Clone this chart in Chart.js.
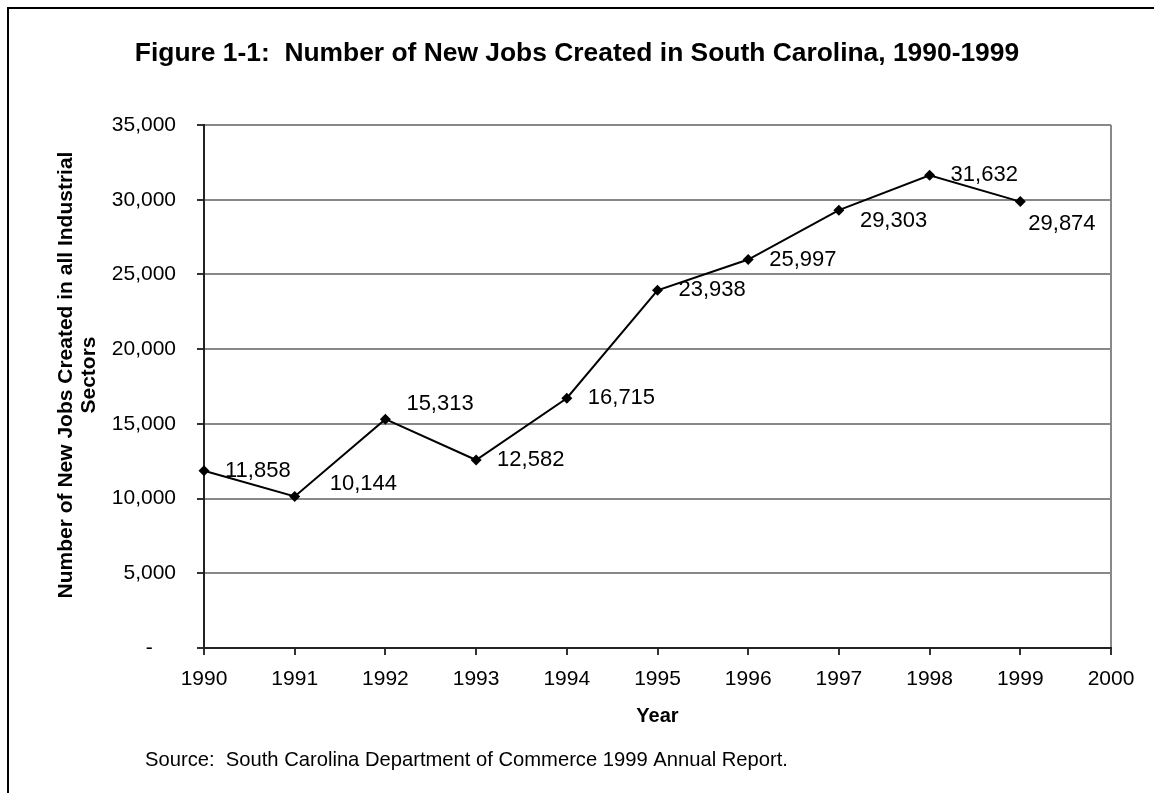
<!DOCTYPE html>
<html lang="en">
<head>
    <meta charset="UTF-8">
    <title>New Jobs Created in South Carolina</title>
    <script src="https://cdn.jsdelivr.net/npm/chart.js@4.4.0/dist/chart.umd.min.js"></script>
    <style>
        body {
            margin: 0;
            background: #fff;
            overflow: hidden;
        }
        canvas {
            display: block;
        }
    </style>
</head>
<body>
    <canvas id="jobsChart" width="1154" height="793"></canvas>

    <script>
        const years = [1990, 1991, 1992, 1993, 1994, 1995, 1996, 1997, 1998, 1999];
        const newJobs = [11858, 10144, 15313, 12582, 16715, 23938, 25997, 29303, 31632, 29874];

        // small hand nudges so the value labels don't sit on the line
        const labelShiftX = [0, 14, 0, 0, 0, 0, 0, 0, 0, -13];
        const labelShiftY = [0, -12, -15, 0, 0, 0, 0, 11, 0, 22];

        const FONT = '"Liberation Sans", Arial, sans-serif';
        const fmt = v => v.toLocaleString('en-US');

        const decorations = {
            id: 'decorations',
            beforeDraw(chart) {
                const ctx = chart.ctx;
                ctx.save();
                ctx.strokeStyle = '#000';
                ctx.lineWidth = 2;
                ctx.strokeRect(8, 8, 1200, 900);
                ctx.restore();
            },
            afterDraw(chart) {
                const ctx = chart.ctx;
                const area = chart.chartArea;
                ctx.save();
                ctx.fillStyle = '#000';

                // title
                ctx.font = 'bold 26.4px ' + FONT;
                ctx.textAlign = 'center';
                ctx.textBaseline = 'middle';
                ctx.fillText('Figure 1-1:  Number of New Jobs Created in South Carolina, 1990-1999', 577, 54);

                // axis titles
                ctx.font = 'bold 20px ' + FONT;
                ctx.fillText('Year', (area.left + area.right) / 2, 716);

                ctx.font = 'bold 21px ' + FONT;
                ctx.save();
                ctx.translate(77, 375);
                ctx.rotate(-Math.PI / 2);
                ctx.fillText('Number of New Jobs Created in all Industrial', 0, -11);
                ctx.fillText('Sectors', 0, 12);
                ctx.restore();

                // source note
                ctx.font = '20.2px ' + FONT;
                ctx.textAlign = 'left';
                ctx.fillText('Source:  South Carolina Department of Commerce 1999 Annual Report.', 145, 760);

                // value labels next to each point
                ctx.font = '22px ' + FONT;
                ctx.textBaseline = 'middle';
                const meta = chart.getDatasetMeta(0);
                meta.data.forEach((pt, i) => {
                    ctx.fillText(fmt(newJobs[i]), pt.x + 21 + labelShiftX[i], pt.y + labelShiftY[i]);
                });
                ctx.restore();
            }
        };

        new Chart(document.getElementById('jobsChart'), {
            type: 'line',
            data: {
                datasets: [{
                    data: years.map((y, i) => ({ x: y, y: newJobs[i] })),
                    borderColor: '#000',
                    borderWidth: 2,
                    backgroundColor: '#000',
                    pointStyle: 'rectRot',
                    pointRadius: 5.5,
                    pointBorderWidth: 0,
                    tension: 0,
                    clip: false
                }]
            },
            options: {
                responsive: false,
                animation: false,
                events: [],
                layout: {
                    padding: { top: 125, right: 43, left: 0, bottom: 0 }
                },
                plugins: {
                    legend: { display: false },
                    tooltip: { enabled: false }
                },
                scales: {
                    x: {
                        type: 'linear',
                        min: 1990,
                        max: 2000,
                        afterFit: s => { s.height = 145; },
                        ticks: {
                            stepSize: 1,
                            padding: 12,
                            color: '#000',
                            font: { family: FONT, size: 21 },
                            callback: v => String(v),
                            maxRotation: 0
                        },
                        grid: {
                            color: c => c.tick && c.tick.value === 2000 ? '#888' : 'rgba(0,0,0,0)',
                            lineWidth: 2,
                            tickColor: '#333',
                            tickLength: 7
                        },
                        border: { display: true, color: '#222', width: 2 }
                    },
                    y: {
                        min: 0,
                        max: 35000,
                        afterFit: s => { s.width = 204; },
                        ticks: {
                            stepSize: 5000,
                            padding: 21,
                            color: '#000',
                            font: { family: FONT, size: 21 },
                            // accounting style: zero shows as a dash, padded like two digits
                            callback: v => v === 0 ? '-    ' : fmt(v)
                        },
                        grid: {
                            color: '#888',
                            lineWidth: 2,
                            tickColor: '#333',
                            tickLength: 7
                        },
                        border: { display: true, color: '#222', width: 2 }
                    }
                }
            },
            plugins: [decorations]
        });
    </script>
</body>
</html>
